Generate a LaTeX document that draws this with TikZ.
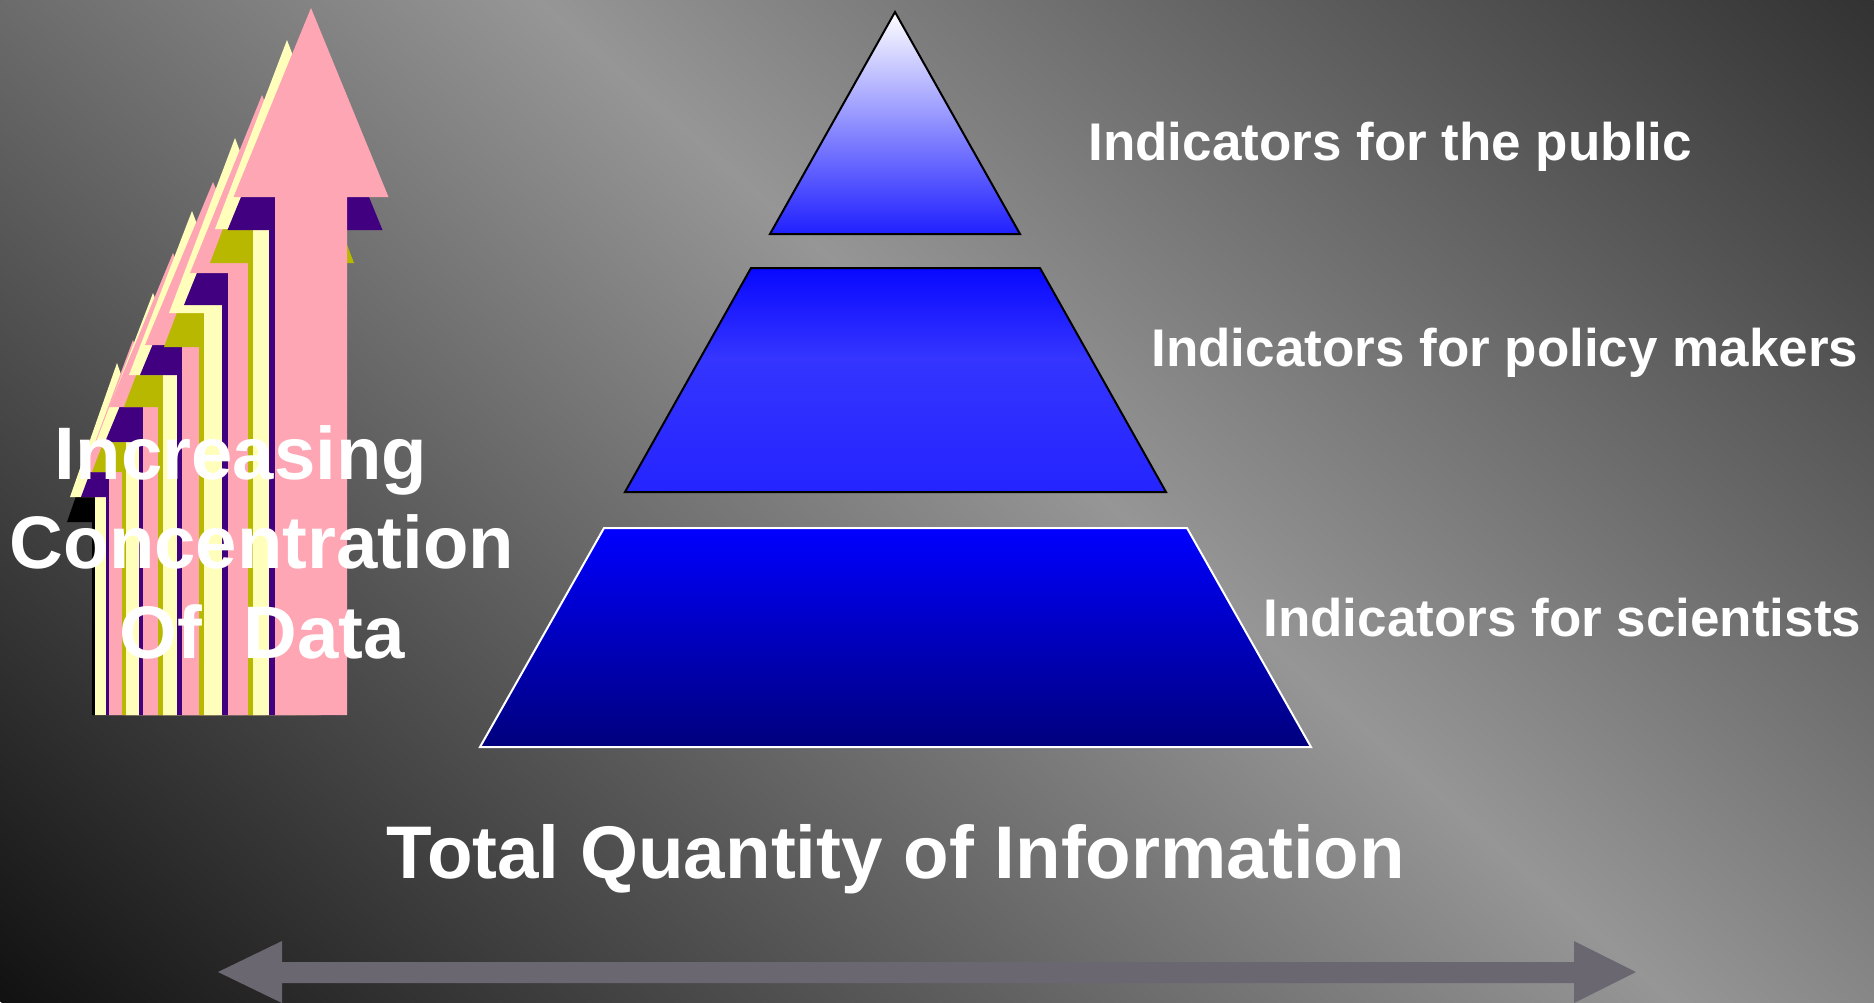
\documentclass[tikz,border=0pt]{standalone}
\usepackage{fontspec}
\setmainfont{Liberation Sans}
\definecolor{pinkA}{RGB}{255,166,181}
\definecolor{yelA}{RGB}{255,255,187}
\definecolor{purA}{RGB}{64,0,128}
\definecolor{oliA}{RGB}{184,184,0}
\definecolor{bgA}{RGB}{17,17,17}
\definecolor{bgB}{RGB}{150,150,150}
\definecolor{bgC}{RGB}{50,50,50}
\definecolor{arrG}{RGB}{106,103,112}
\definecolor{triB}{RGB}{32,32,255}
\definecolor{mA}{RGB}{8,8,255}
\definecolor{mB}{RGB}{53,53,255}
\definecolor{mC}{RGB}{36,36,255}
\definecolor{bA}{RGB}{0,0,255}
\definecolor{bB}{RGB}{0,0,215}
\definecolor{bC}{RGB}{0,0,125}
\pgfdeclarehorizontalshading{bgshade}{100bp}{color(0bp)=(bgA); color(25bp)=(bgA); color(52.8bp)=(bgB); color(75bp)=(bgC); color(100bp)=(bgC)}
\pgfdeclareverticalshading{midshade}{100bp}{color(0bp)=(mC); color(25bp)=(mC); color(55bp)=(mB); color(75bp)=(mA); color(100bp)=(mA)}
\newcommand\arrpair[9]{%
 \fill[#2] ({#3+#8},{#4+#9}) -- ({#3+#8+#7},{#5+#9}) -- ({#3+#8+#6},{#5+#9}) -- ({#3+#8+#6},715) -- ({#3+#8-#6},715) -- ({#3+#8-#6},{#5+#9}) -- ({#3+#8-#7},{#5+#9}) -- cycle;
 \fill[#1] (#3,#4) -- ({#3+#7},#5) -- ({#3+#6},#5) -- ({#3+#6},715) -- ({#3-#6},715) -- ({#3-#6},#5) -- ({#3-#7},#5) -- cycle;}
\tikzset{
 lefttxt/.style={text=white, font=\bfseries\fontsize{37.2}{44}\selectfont, anchor=base, inner sep=0pt},
 pyrtxt/.style={text=white, font=\bfseries\fontsize{26.5}{32}\selectfont, anchor=base west, inner sep=0pt},
 bigtxt/.style={text=white, font=\bfseries\fontsize{37.3}{44}\selectfont, anchor=base, inner sep=0pt},
 darkedge/.style={draw=black, line width=1pt, line join=miter},
 lightedge/.style={draw=white, line width=1pt, line join=miter}
}
\begin{document}
\begin{tikzpicture}[x=0.5pt, y=-0.5pt]
\useasboundingbox (0,0) rectangle (1874,1002);
% background
\begin{scope}
\clip (0,0) rectangle (1874,1002);
\shade[shading=bgshade, transform canvas={rotate around={48.6:(937,501)}}] (-58,-549) rectangle (1932,1551);
\end{scope}
% stacked arrows (back to front)
\arrpair{yelA}{black}{117}{363}{497}{22}{47}{-3}{25}
\arrpair{pinkA}{purA}{133}{340}{472}{24}{49}{-3}{25}
\arrpair{yelA}{oliA}{153}{293}{442}{27}{57}{-4}{30}
\arrpair{pinkA}{purA}{173}{253}{407}{30}{64}{-4}{35}
\arrpair{yelA}{oliA}{192}{211}{375}{29}{63}{-5}{32}
\arrpair{pinkA}{purA}{213}{182}{345}{31}{68}{-5}{30}
\arrpair{yelA}{oliA}{235}{138}{313}{31}{66}{-5}{34}
\arrpair{pinkA}{purA}{262}{95}{273}{34}{72}{-6}{32}
\arrpair{yelA}{oliA}{287}{40}{229}{34}{72}{-5}{34}
\arrpair{pinkA}{purA}{311}{8}{197}{36}{77.5}{-6}{33}
% left text
\node[lefttxt] (inc) at (241,479) {Increasing};
\node[lefttxt] (conc) at (262,568) {Concentration};
\node[lefttxt] (ofd) at (262.5,658) {Of~~Data};
% pyramid
\shade[top color=white, bottom color=triB] (895,12) -- (1020,234) -- (770,234) -- cycle;
\draw[darkedge] (895,12) -- (1020,234) -- (770,234) -- cycle;
\shade[shading=midshade] (751,268) -- (1040,268) -- (1166,492) -- (625,492) -- cycle;
\draw[darkedge] (751,268) -- (1040,268) -- (1166,492) -- (625,492) -- cycle;
\shade[top color=bA, middle color=bB, bottom color=bC] (604,528) -- (1187,528) -- (1311,747) -- (480,747) -- cycle;
\draw[lightedge] (604,528) -- (1187,528) -- (1311,747) -- (480,747) -- cycle;
% labels
\node[pyrtxt] (pub) at (1088,160) {Indicators for the public};
\node[pyrtxt] (pol) at (1151,366) {Indicators for policy makers};
\node[pyrtxt] (sci) at (1263,636) {Indicators for scientists};
\node[bigtxt] (tot) at (896,878) {Total Quantity of Information};
% double arrow
\fill[arrG] (218,972) -- (282,941) -- (282,962) -- (1574,962) -- (1574,941) -- (1636,972) -- (1574,1003) -- (1574,983) -- (282,983) -- (282,1003) -- cycle;
\end{tikzpicture}
\end{document}
